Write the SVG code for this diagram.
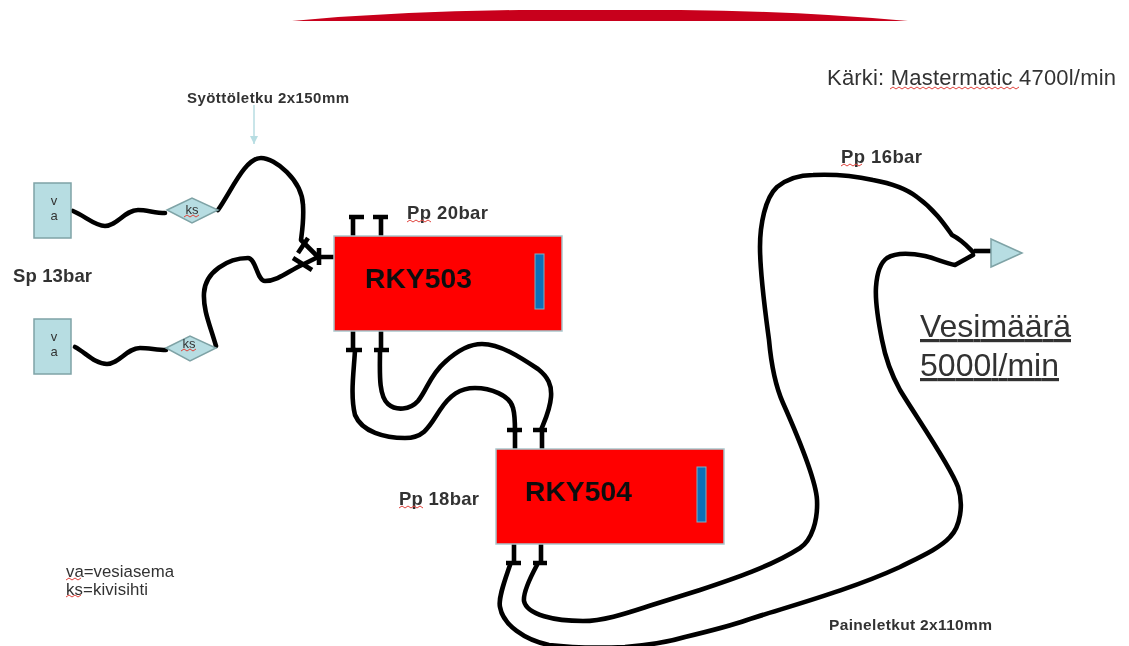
<svg xmlns="http://www.w3.org/2000/svg" width="1129" height="646" viewBox="0 0 1129 646">
<style>
text{font-family:"Liberation Sans",Arial,sans-serif;fill:#333}
.b{font-weight:bold}
.s{fill:#b7dde2;stroke:#7fa3a6;stroke-width:1.5}
.r{fill:#ff0000;stroke:#a9c6cc;stroke-width:1.5}
.u{fill:#0f6fb8;stroke:#7fb0c0;stroke-width:1}
.h{fill:none;stroke:#000;stroke-width:4.6;stroke-linecap:round;stroke-linejoin:round}
.c{fill:none;stroke:#000;stroke-width:4.6}
.w{fill:none;stroke:#e0443c;stroke-width:1}
.m{font-size:13px;text-anchor:middle}
.t{font-size:28.3px;font-weight:bold;fill:#111}
</style>
<defs>
<marker id="a" markerWidth="10" markerHeight="10" refX="8" refY="4" orient="auto" markerUnits="userSpaceOnUse"><path d="M0 0L8 4L0 8Z" fill="#b7dde2"/></marker>
<filter id="soft" x="0" y="0" width="100%" height="100%"><feGaussianBlur stdDeviation="0.45"/></filter>
</defs>
<g filter="url(#soft)">
<path id="banner" d="M292 21Q400 11 520 10L680 10Q800 11 908 21Z" fill="#c8001a"/>
<g id="connectors">
<path d="M254 105V144" fill="none" stroke="#b7dde2" stroke-width="1.5" marker-end="url(#a)"/>
<path class="h" d="M73 211C85 216 95 226 105 226C117 226 125 210 138 210C147 210 155 213 165 213"/>
<path class="h" d="M75 347C85 352 95 364 107 364C119 364 127 348 140 348C149 348 157 350 166 350"/>
<path class="h" d="M218 210C232 190 245 158 261 158C275 158 302 180 303 205C304 220 302 232 301 240L318 257"/>
<path class="h" d="M216 346C210 325 203 310 204 293C205 272 228 258 248 258C256 258 257 281 265 281C278 281 290 270 302 265L318 257"/>
<path class="c" d="M308 238L298 253M293 258L312 270M319 248V265M319 257H334"/>
<path class="c" d="M353 236V217M381 236V217M349 217H364M373 217H388"/>
<path class="c" d="M353 331V350M381 331V350M346 350H362M374 350H389"/>
<path class="h" d="M355 350C354 370 350 395 355 415C362 432 385 438 405 438C425 438 430 425 440 410C450 395 460 388 475 388C490 388 510 395 513 408C515 415 515 425 515 432"/>
<path class="h" d="M380 350C380 370 378 395 388 404C396 411 410 410 418 401C427 390 430 375 445 362C458 350 470 344 482 344C500 344 520 357 538 369C548 377 552 385 551 397C550 410 545 420 541 430"/>
<path class="c" d="M515 449V430M542 449V430M507 430H522M533 430H547"/>
<path class="c" d="M514 544V563M541 544V563M506 563H521M533 563H547"/>
<path class="h" d="M537 565C530 578 523 592 524 601C527 615 555 621 583 621C605 621 630 612 652 605C668 600 684 595 700 590C733 579 772 566 800 548C812 540 818 520 817 500C816 480 795 430 783 403C775 385 771 362 769 340C765 310 760 275 760 247C760 225 765 198 777 187C787 179 800 175 813 175C835 174 855 176 873 180C895 184 908 190 917 197C935 210 945 225 952 235C962 240 968 247 973 252"/>
<path class="h" d="M510 565C505 580 498 598 500 607C503 625 525 640 549 645C575 648 600 648 625 647C650 645 665 643 685 637C710 631 730 626 747 620C790 606 850 590 900 567C922 556 940 548 950 537C960 527 964 505 958 487C950 465 915 415 900 390C890 372 885 356 882 340C878 320 875 302 876 287C877 272 880 263 887 258C895 253 910 253 925 256C937 259 945 263 955 265L973 255"/>
<path class="c" d="M974 251H991"/>
</g>
<g id="va1"><rect class="s" x="34" y="183" width="37" height="55"/><text class="m" x="54" y="205">v</text><text class="m" x="54" y="220">a</text></g>
<g id="va2"><rect class="s" x="34" y="319" width="37" height="55"/><text class="m" x="54" y="341">v</text><text class="m" x="54" y="356">a</text></g>
<g id="ks1"><path class="s" d="M167 210L192 198L218 210L192 223Z"/><text class="m" x="192" y="214">ks</text><path class="w" d="M184 217l3-2 3 2 3-2 3 2 3-2"/></g>
<g id="ks2"><path class="s" d="M166 348L190 336L216 348L190 361Z"/><text class="m" x="189" y="348">ks</text><path class="w" d="M181 351l3-2 3 2 3-2 3 2 3-2"/></g>
<g id="RKY503"><rect class="r" x="334" y="236" width="228" height="95"/><rect class="u" x="535" y="254" width="9" height="55"/><text class="t" x="365" y="288">RKY503</text></g>
<g id="RKY504"><rect class="r" x="496" y="449" width="228" height="95"/><rect class="u" x="697" y="467" width="9" height="55"/><text class="t" x="525" y="501">RKY504</text></g>
<g id="nozzle"><path class="s" d="M991 239L1022 253L991 267Z"/></g>
<g id="labels">
<text class="b" x="187" y="103" font-size="15" textLength="162">Syöttöletku 2x150mm</text>
<text class="b" x="13" y="282" font-size="18.5" textLength="79">Sp 13bar</text>
<text class="b" x="407" y="219" font-size="18.5" textLength="81">Pp 20bar</text>
<text class="b" x="399" y="505" font-size="18.5" textLength="80">Pp 18bar</text>
<text class="b" x="841" y="163" font-size="18.5" textLength="81">Pp 16bar</text>
<text class="b" x="829" y="630" font-size="15.5" textLength="163">Paineletkut 2x110mm</text>
<text x="827" y="85" font-size="22" textLength="289">Kärki: Mastermatic 4700l/min</text>
<text x="920" y="337" font-size="32" textLength="151" text-decoration="underline">Vesimäärä</text>
<text x="920" y="376" font-size="32" textLength="139" text-decoration="underline">5000l/min</text>
<text x="66" y="577" font-size="16.8" textLength="108">va=vesiasema</text>
<text x="66" y="595" font-size="16.8" textLength="82">ks=kivisihti</text>
<path class="w" d="M407 222l3-2 3 2 3-2 3 2 3-2 3 2 3-2 3 2M399 508l3-2 3 2 3-2 3 2 3-2 3 2 3-2 3 2M841 166l3-2 3 2 3-2 3 2 3-2 3 2 3-2M66 580l3-2 3 2 3-2 3 2 3-2M66 597l3-2 3 2 3-2 3 2 3-2"/>
<path class="w" d="M890 89l3-2 3 2 3-2 3 2 3-2 3 2 3-2 3 2 3-2 3 2 3-2 3 2 3-2 3 2 3-2 3 2 3-2 3 2 3-2 3 2 3-2 3 2 3-2 3 2 3-2 3 2 3-2 3 2 3-2 3 2 3-2 3 2 3-2 3 2 3-2 3 2 3-2 3 2 3-2 3 2 3-2 3 2 3-2"/>
</g>
</g>
</svg>
